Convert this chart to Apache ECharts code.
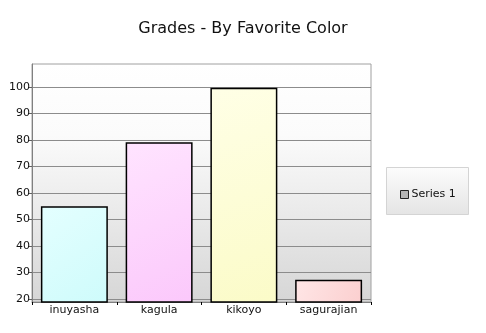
<!DOCTYPE html>
<html><head><meta charset="utf-8">
<script src="https://cdn.jsdelivr.net/npm/echarts@6/dist/echarts.min.js"></script>
<style>html,body{margin:0;padding:0;background:#fff}#c{width:486px;height:333px}</style>
</head><body><div id="c"></div>
<script>
const categories = ['inuyasha', 'kagula', 'kikoyo', 'sagurajian'];
const values = [55, 79.2, 99.7, 27.3];
const yTicks = [20, 30, 40, 50, 60, 70, 80, 90, 100];
const barColors = [['#e4ffff', '#cefbfb'], ['#ffe4ff', '#fbc8fb'], ['#ffffe6', '#fbfbc8'], ['#ffe6e6', '#fbcfcf']];
const seriesName = 'Series 1';

const chart = echarts.init(document.getElementById('c'), null, {renderer: 'canvas'});
const font = 'DejaVu Sans, Verdana, sans-serif';
chart.setOption({
  animation: false,
  title: {text: 'Grades - By Favorite Color', left: 'center', top: 16,
    textStyle: {fontFamily: font, fontSize: 16, fontWeight: 'normal', color: '#111'}},
  graphic: [{type: 'rect', left: 386, top: 167, shape: {width: 82, height: 47},
    style: {fill: new echarts.graphic.LinearGradient(0, 0, 0, 1, [{offset: 0, color: '#fcfcfc'}, {offset: 1, color: '#e4e4e4'}]),
      stroke: '#d4d4d4', lineWidth: 1}, z: 0}],
  legend: {left: 395, top: 184, itemWidth: 8, itemHeight: 8, itemGap: 4,
    data: [{name: seriesName, icon: 'rect', itemStyle: {color: '#b4b4b4', borderColor: '#222', borderWidth: 1}}],
    textStyle: {fontFamily: font, fontSize: 11, color: '#111', padding: [0, 0, 0, -2]}, z: 5},
  grid: {left: 32, right: 115, top: 64, bottom: 31, show: true, borderColor: '#a0a0a0', borderWidth: 1,
    backgroundColor: new echarts.graphic.LinearGradient(0, 0, 0, 1, [{offset: 0, color: '#ffffff'}, {offset: 0.3, color: '#fbfbfb'}, {offset: 1, color: '#d6d6d6'}])},
  xAxis: {type: 'category', data: categories,
    axisLine: {show: true, lineStyle: {color: '#808080', width: 1}},
    axisTick: {show: true, length: 3, lineStyle: {color: '#000'}},
    axisLabel: {fontFamily: font, fontSize: 11, color: '#111', margin: 3}},
  yAxis: {type: 'value', min: 18.9, max: 108.7,
    axisLine: {show: true, lineStyle: {color: '#808080'}},
    axisTick: {show: true, length: 4, customValues: yTicks, lineStyle: {color: '#606060'}},
    axisLabel: {customValues: yTicks, fontFamily: font, fontSize: 11, color: '#111', margin: 2},
    splitLine: {show: true, lineStyle: {color: '#8c8c8c', width: 1}}},
  series: [{name: seriesName, type: 'bar', barCategoryGap: '21%',
    itemStyle: {color: '#b4b4b4', borderColor: '#000', borderWidth: 1.5},
    data: values.map((v, i) => ({value: v, itemStyle: {
      color: new echarts.graphic.LinearGradient(0, 0, 1, 1, [{offset: 0, color: barColors[i][0]}, {offset: 1, color: barColors[i][1]}])}}))}]
});
</script></body></html>
